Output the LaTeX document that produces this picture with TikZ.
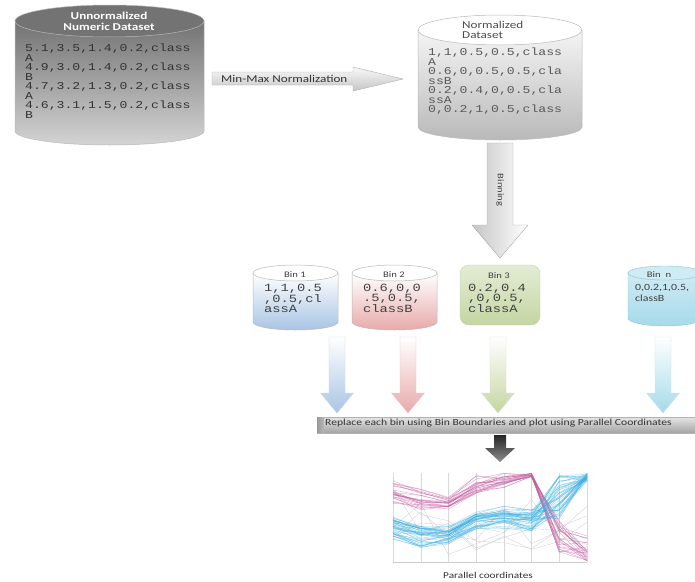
\documentclass[tikz,border=0pt]{standalone}
\usepackage{fontspec}
\setmainfont{Carlito}[FakeStretch=1.25]
\newfontfamily\datafont{Liberation Mono}[FakeStretch=1.25]
\definecolor{binblue}{HTML}{A9C4E4}
\definecolor{binred}{HTML}{E8AAAA}
\definecolor{bingreen}{HTML}{C4D6A2}
\definecolor{bingreenlt}{HTML}{E4ECD4}
\definecolor{bincyan}{HTML}{A6DAEA}
\definecolor{bincyanlt}{HTML}{CFEBF3}
\definecolor{pcpink}{HTML}{C05A9E}
\definecolor{pcblue}{HTML}{3AAEE0}
\newcommand\myvarrow[7]{%
  \path[#7] ({#1-#5},{-#2}) -- ({#1+#5},{-#2}) -- ({#1+#5},{-#3}) -- ({#1+#6},{-#3})
    -- (#1,{-#4}) -- ({#1-#6},{-#3}) -- ({#1-#5},{-#3}) -- cycle;}
\tikzset{
  datatext/.style={font=\datafont\fontsize{10.5}{9.5}\selectfont, align=left, anchor=north west, inner sep=0pt},
  bintext/.style={font=\datafont\fontsize{11}{9}\selectfont, align=left, anchor=north west, inner sep=0pt, text=black!75},
  binlabel/.style={font=\fontsize{8.5}{9}\selectfont, text=black!75, inner sep=0pt},
  cylline/.style={draw=gray!55, line width=0.5pt},
  binarrow/.style={draw=#1!70, line width=0.3pt, top color=white, bottom color=#1},
}
\begin{document}
\begin{tikzpicture}[x=1pt,y=1pt]
\useasboundingbox (0,0) rectangle (695,-581);

% ---------- Cylinder 1: Unnormalized dataset
\path[cylline, top color=black!55, bottom color=black!17]
  (15,-21) -- (15,-131) arc[start angle=180,end angle=360,x radius=94.5,y radius=14] -- (204,-21) -- cycle;
\path[cylline, fill=black!55] (109.5,-21) ellipse[x radius=94.5,y radius=16];
\node[font=\bfseries\fontsize{10.5}{11}\selectfont, text=white, align=center, inner sep=0pt] (t1) at (109,-21.5) {Unnormalized\\Numeric Dataset};
\node[datatext, text=black!80] (d1) at (25,-44) {5.1,3.5,1.4,0.2,class\\A\\4.9,3.0,1.4,0.2,class\\B\\4.7,3.2,1.3,0.2,class\\A\\4.6,3.1,1.5,0.2,class\\B};

% ---------- Min-Max arrow
\path[draw=gray!65, line width=0.4pt, top color=gray!5, bottom color=gray!45]
  (212,-72) -- (353,-72) -- (353,-67) -- (403,-79) -- (353,-91) -- (353,-85) -- (212,-85) -- cycle;
\node[font=\fontsize{10.5}{11}\selectfont, text=black!80, anchor=west, inner sep=0pt] (mm) at (221,-78.5) {Min-Max Normalization};

% ---------- Cylinder 2: Normalized dataset
\path[cylline, top color=gray!8, bottom color=gray!55]
  (418,-30) -- (418,-127) arc[start angle=180,end angle=360,x radius=82,y radius=13] -- (582,-30) -- cycle;
\path[cylline, fill=white] (500,-30) ellipse[x radius=82,y radius=15];
\node[font=\fontsize{10.5}{10.5}\selectfont, text=black!70, align=left, anchor=west, inner sep=0pt] (t2) at (462,-30) {Normalized\\Dataset};
\node[datatext, text=black!65] (d2) at (428,-48) {1,1,0.5,0.5,class\\A\\0.6,0,0.5,0.5,cla\\ssB\\0.2,0.4,0,0.5,cla\\ssA\\0,0.2,1,0.5,class};

% ---------- Binning arrow
\myvarrow{500}{143}{225}{258}{13}{28}{draw=gray!70, line width=0.4pt, left color=gray!45, right color=white}
\node[font=\fontsize{8.5}{9}\selectfont, text=black!75, rotate=-90, inner sep=0pt] (bn) at (500,-190) {Binning};

% ---------- Bin 1
\path[cylline, top color=white, bottom color=binblue]
  (253,-273) -- (253,-322) arc[start angle=180,end angle=360,x radius=42.5,y radius=8] -- (338,-273) -- cycle;
\path[cylline, fill=white] (295.5,-273) ellipse[x radius=42.5,y radius=8];
\node[binlabel] (b1) at (295,-275) {Bin 1};
\node[bintext] (b1d) at (264,-284) {1,1,0.5\\,0.5,cl\\assA};

% ---------- Bin 2
\path[cylline, top color=white, bottom color=binred]
  (352,-273) -- (352,-322) arc[start angle=180,end angle=360,x radius=42.5,y radius=8] -- (437,-273) -- cycle;
\path[cylline, fill=white] (394.5,-273) ellipse[x radius=42.5,y radius=8];
\node[binlabel] (b2) at (394,-275) {Bin 2};
\node[bintext] (b2d) at (363,-284) {0.6,0,0\\.5,0.5,\\classB};

% ---------- Bin 3
\path[draw=bingreen!80!black!60, line width=0.4pt, rounded corners=9, top color=bingreenlt, bottom color=bingreen]
  (460,-265) rectangle (540,-325);
\node[binlabel] (b3) at (499,-276) {Bin 3};
\node[bintext] (b3d) at (468,-284) {0.2,0.4\\,0,0.5,\\classA};

% ---------- Bin n
\path[draw=bincyan!70!gray, line width=0.4pt, top color=bincyanlt, bottom color=bincyan]
  (628,-273) -- (628,-318) arc[start angle=180,end angle=360,x radius=37,y radius=8] -- (702,-273) -- cycle;
\path[draw=bincyan!70!gray, line width=0.4pt, fill=bincyanlt] (665,-273) ellipse[x radius=37,y radius=7];
\node[binlabel] (bnl) at (659,-275) {Bin\ \ n};
\node[font=\fontsize{9.5}{11}\selectfont, text=black!75, align=left, anchor=north west, inner sep=0pt] (bnd) at (635,-284) {0,0.2,1,0.5,\\classB};

% ---------- arrows below bins
\myvarrow{337}{337}{393}{413}{8}{16.5}{binarrow=binblue}
\myvarrow{408}{337}{393}{413}{8}{16.5}{binarrow=binred}
\myvarrow{498}{337}{393}{413}{8}{16.5}{binarrow=bingreen}
\myvarrow{663}{337}{393}{413}{8}{16.5}{binarrow=bincyan}

% ---------- bar
\path[draw=gray!60, line width=0.4pt, top color=gray!20, bottom color=gray!72] (317,-417) rectangle (697,-433);
\path[left color=gray!80, right color=gray!55] (317.2,-417.2) rectangle (324,-432.8);
\node[font=\fontsize{9.3}{10}\selectfont, text=black!80, anchor=west, inner sep=0pt] (bar) at (325,-423.5) {Replace each bin using Bin Boundaries and plot using Parallel Coordinates};

% ---------- small dark arrow
\myvarrow{500}{435}{448}{462}{6}{15}{top color=black!85, bottom color=black!45}

% ---------- parallel coordinates plot
\foreach \i in {0,...,7} {
  \draw[gray!30, line width=0.4pt] ({393+\i*27.7},-473) -- ({393+\i*27.7},-562);
}
\draw[gray!40, line width=0.4pt] (393,-562) -- (587,-562);
\pgfmathsetseed{11}
% gray lines
\foreach \k in {1,...,6} {
  \pgfmathsetmacro\ya{510+30*rand}\pgfmathsetmacro\yb{525+30*rand}
  \pgfmathsetmacro\yc{530+25*rand}\pgfmathsetmacro\yd{535+25*rand}
  \pgfmathsetmacro\ye{530+30*rand}\pgfmathsetmacro\yf{525+30*rand}
  \pgfmathsetmacro\yg{520+30*rand}\pgfmathsetmacro\yh{530+28*rand}
  \draw[gray!45, line width=0.35pt, opacity=0.8] (393,-\ya) -- (420.7,-\yb) -- (448.4,-\yc) -- (476.1,-\yd) -- (503.8,-\ye) -- (531.5,-\yf) -- (559.2,-\yg) -- (587,-\yh);
}
% pink lines
\foreach \k in {1,...,24} {
  \pgfmathsetmacro\r{rand}
  \pgfmathsetmacro\ya{493+13*(0.7*\r+0.3*rand)}\pgfmathsetmacro\yb{500+12*(0.7*\r+0.3*rand)}
  \pgfmathsetmacro\yc{503+8*(0.7*\r+0.3*rand)}\pgfmathsetmacro\yd{487+12*(0.6*\r+0.4*rand)}
  \pgfmathsetmacro\ye{481+8*(0.5*\r+0.5*rand)}\pgfmathsetmacro\yf{475+2*rand}
  \pgfmathsetmacro\yg{537+18*rand}\pgfmathsetmacro\yh{min(561,548+14*rand)}
  \draw[pcpink, line width=0.4pt, opacity=0.55] (393,-\ya) -- (420.7,-\yb) -- (448.4,-\yc) -- (476.1,-\yd) -- (503.8,-\ye) -- (531.5,-\yf) -- (559.2,-\yg) -- (587,-\yh);
}
% blue lines
\foreach \k in {1,...,44} {
  \pgfmathsetmacro\r{rand}
  \pgfmathsetmacro\ya{527+13*(0.7*\r+0.3*rand)}\pgfmathsetmacro\yb{535+14*(0.7*\r+0.3*rand)}
  \pgfmathsetmacro\yc{535+10*(0.7*\r+0.3*rand)}\pgfmathsetmacro\yd{520+10*(0.7*\r+0.3*rand)}
  \pgfmathsetmacro\ye{517+12*(0.6*\r+0.4*rand)}\pgfmathsetmacro\yf{520+14*(0.6*\r+0.4*rand)}
  \pgfmathsetmacro\yg{497+22*rand}\pgfmathsetmacro\yh{477+4*rand}
  \draw[pcblue, line width=0.4pt, opacity=0.5] (393,-\ya) -- (420.7,-\yb) -- (448.4,-\yc) -- (476.1,-\yd) -- (503.8,-\ye) -- (531.5,-\yf) -- (559.2,-\yg) -- (587,-\yh);
}
\node[font=\fontsize{9}{10}\selectfont, text=black!80, inner sep=0pt] (pc) at (488,-575) {Parallel coordinates};
\end{tikzpicture}
\end{document}
